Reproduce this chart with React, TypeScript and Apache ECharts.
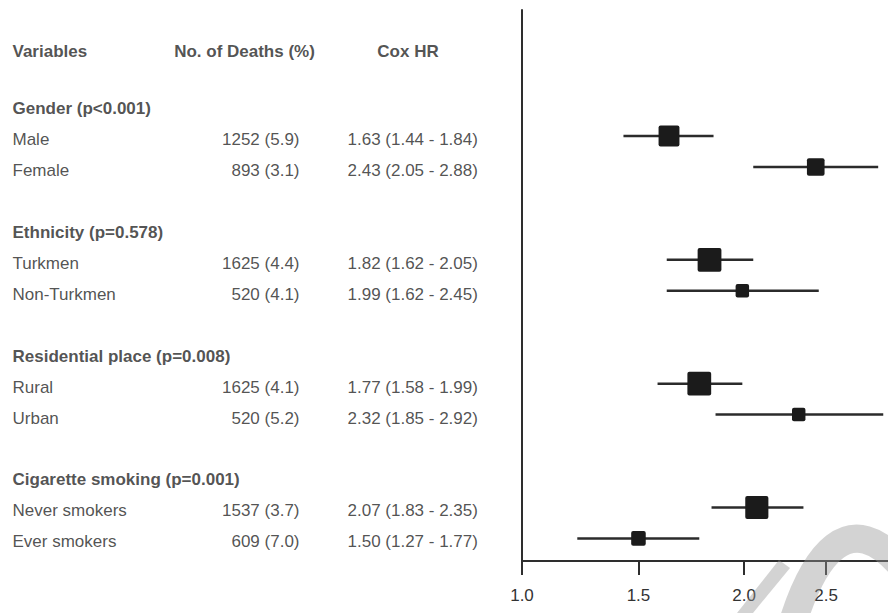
import React, { useEffect, useRef } from "react";
import * as echarts from "echarts";

// ---------- data ----------
const groups = [
  "Gender (p<0.001)",
  "Ethnicity (p=0.578)",
  "Residential place (p=0.008)",
  "Cigarette smoking (p=0.001)",
];
const categories = [
  "Male",
  "Female",
  "Turkmen",
  "Non-Turkmen",
  "Rural",
  "Urban",
  "Never smokers",
  "Ever smokers",
];
const groupOf = [0, 0, 1, 1, 2, 2, 3, 3];
const deaths = [1252, 893, 1625, 520, 1625, 520, 1537, 609];
const deathPct = [5.9, 3.1, 4.4, 4.1, 4.1, 5.2, 3.7, 7.0];
const hr = [1.63, 2.43, 1.82, 1.99, 1.77, 2.32, 2.07, 1.5];
const lower = [1.44, 2.05, 1.62, 1.62, 1.58, 1.85, 1.83, 1.27];
const upper = [1.84, 2.88, 2.05, 2.45, 1.99, 2.92, 2.35, 1.77];
const columnHeaders = ["Variables", "No. of Deaths (%)", "Cox HR"];
const tickLabels = ["1.0", "1.5", "2.0", "2.5"];

// ---------- layout ----------
const FONT = "'Liberation Sans', Arial, Helvetica, sans-serif";
const TEXT = "#262626";
const X_MIN = 1.0926;
const X_MAX = 2.958;
const Y_MIN = -4.07;
const Y_MAX = 13.73;
const HEADER_ROW = -2.83;
const tickValues = [X_MIN, 1.5, 2.0, 2.5];

// row index: each group = header + items + blank line
const withinIdx: number[] = [];
{
  const seen: Record<number, number> = {};
  groupOf.forEach((g, i) => {
    seen[g] = seen[g] === undefined ? 0 : seen[g] + 1;
    withinIdx[i] = seen[g];
  });
}
const rowOf = categories.map((_, i) => groupOf[i] * 4 + withinIdx[i]);
const groupRow = groups.map((_, g) => g * 4 - 1);

function textSeries(
  name: string,
  items: { name: string; value: [number, number] }[],
  position: string,
  bold: boolean
) {
  return {
    type: "scatter",
    name,
    xAxisIndex: 1,
    yAxisIndex: 1,
    silent: true,
    symbol: "circle",
    symbolSize: 1,
    itemStyle: { color: "rgba(0,0,0,0)" },
    data: items,
    label: {
      show: true,
      position,
      distance: 0,
      formatter: "{b}",
      fontFamily: FONT,
      fontSize: 17,
      fontWeight: bold ? "bold" : "normal",
      color: TEXT,
    },
    emphasis: { disabled: true },
  };
}

export default function App() {
  const ref = useRef<HTMLDivElement>(null);
  useEffect(() => {
    if (!ref.current) return;
    const chart = echarts.init(ref.current, null, { renderer: "svg" });

    const forestData = categories.map((c, i) => ({
      name: c,
      value: [hr[i], rowOf[i], lower[i], upper[i], deaths[i]],
    }));

    const wm = "rgba(150,150,150,0.42)";

    const option: any = {
      animation: false,
      backgroundColor: "#ffffff",
      grid: [
        { left: 522, right: 0, top: 10, bottom: 52 },
        { left: 0, width: 515, top: 13.5, bottom: 48.5 },
      ],
      xAxis: [
        {
          gridIndex: 0,
          type: "log",
          logBase: 10,
          min: X_MIN,
          max: X_MAX,
          axisLine: {
            show: true,
            onZero: false,
            lineStyle: { color: "#2e2e2e", width: 2 },
          },
          axisTick: {
            show: true,
            customValues: tickValues,
            length: 14,
            lineStyle: { color: "#2e2e2e", width: 2 },
          },
          axisLabel: {
            show: true,
            customValues: tickValues,
            margin: 26,
            fontFamily: FONT,
            fontSize: 17,
            color: "#333",
            formatter: (v: number) => {
              let best = 0;
              tickValues.forEach((t, k) => {
                if (Math.abs(t - v) < Math.abs(tickValues[best] - v)) best = k;
              });
              return tickLabels[best];
            },
          },
          splitLine: { show: false },
          minorTick: { show: false },
        },
        { gridIndex: 1, type: "value", min: 0, max: 515, show: false },
      ],
      yAxis: [
        {
          gridIndex: 0,
          type: "value",
          min: Y_MIN,
          max: Y_MAX,
          inverse: true,
          axisLine: {
            show: true,
            onZero: false,
            lineStyle: { color: "#2e2e2e", width: 2 },
          },
          axisTick: { show: false },
          axisLabel: { show: false },
          splitLine: { show: false },
        },
        {
          gridIndex: 1,
          type: "value",
          min: Y_MIN,
          max: Y_MAX,
          inverse: true,
          show: false,
        },
      ],
      series: [
        {
          type: "custom",
          name: "forest",
          xAxisIndex: 0,
          yAxisIndex: 0,
          silent: true,
          clip: false,
          encode: { x: [0, 2, 3], y: 1 },
          data: forestData,
          renderItem: (params: any, api: any) => {
            const v = api.value(0);
            const r = api.value(1);
            const lo = api.value(2);
            const hi = api.value(3);
            const d = api.value(4);
            const c = api.coord([v, r]);
            const l = api.coord([lo, r]);
            const h = api.coord([hi, r]);
            const s = Math.sqrt(d) * 0.59;
            return {
              type: "group",
              children: [
                {
                  type: "line",
                  shape: { x1: l[0], y1: l[1], x2: h[0], y2: h[1] },
                  style: { stroke: "#2b2b2b", lineWidth: 2.5 },
                },
                {
                  type: "rect",
                  shape: { x: c[0] - s / 2, y: c[1] - s / 2, width: s, height: s, r: 2 },
                  style: { fill: "#1b1b1b" },
                },
              ],
            };
          },
        },
        textSeries(
          "headerLeft",
          [{ name: columnHeaders[0], value: [12, HEADER_ROW] }],
          "right",
          true
        ),
        textSeries(
          "headerCenter",
          [
            { name: columnHeaders[1], value: [244.5, HEADER_ROW] },
            { name: columnHeaders[2], value: [408, HEADER_ROW] },
          ],
          "inside",
          true
        ),
        textSeries(
          "groups",
          groups.map((g, k) => ({ name: g, value: [12, groupRow[k]] as [number, number] })),
          "right",
          true
        ),
        textSeries(
          "names",
          categories.map((c, i) => ({ name: c, value: [12, rowOf[i]] as [number, number] })),
          "right",
          false
        ),
        textSeries(
          "deaths",
          categories.map((_, i) => ({
            name: `${deaths[i]} (${deathPct[i].toFixed(1)})`,
            value: [300, rowOf[i]] as [number, number],
          })),
          "left",
          false
        ),
        textSeries(
          "hr",
          categories.map((_, i) => ({
            name: `${hr[i].toFixed(2)} (${lower[i].toFixed(2)} - ${upper[i].toFixed(2)})`,
            value: [347, rowOf[i]] as [number, number],
          })),
          "right",
          false
        ),
      ],
      graphic: {
        elements: [
          {
            type: "bezierCurve",
            id: "wmArch",
            z: 100,
            silent: true,
            shape: { x1: 792, y1: 625, cpx1: 812, cpy1: 560, cpx2: 848, cpy2: 500, x2: 905, y2: 570 },
            style: { stroke: wm, lineWidth: 28, fill: null },
          },
          {
            type: "polygon",
            id: "wmLeg",
            z: 100,
            silent: true,
            shape: {
              points: [
                [737, 613],
                [753, 613],
                [790, 568],
                [779, 560],
              ],
            },
            style: { fill: wm, stroke: null },
          },
        ],
      },
    };

    chart.setOption(option);
    return () => chart.dispose();
  }, []);

  return (
    <div
      ref={ref}
      style={{ position: "absolute", left: 0, top: 0, width: 888, height: 613 }}
    />
  );
}
